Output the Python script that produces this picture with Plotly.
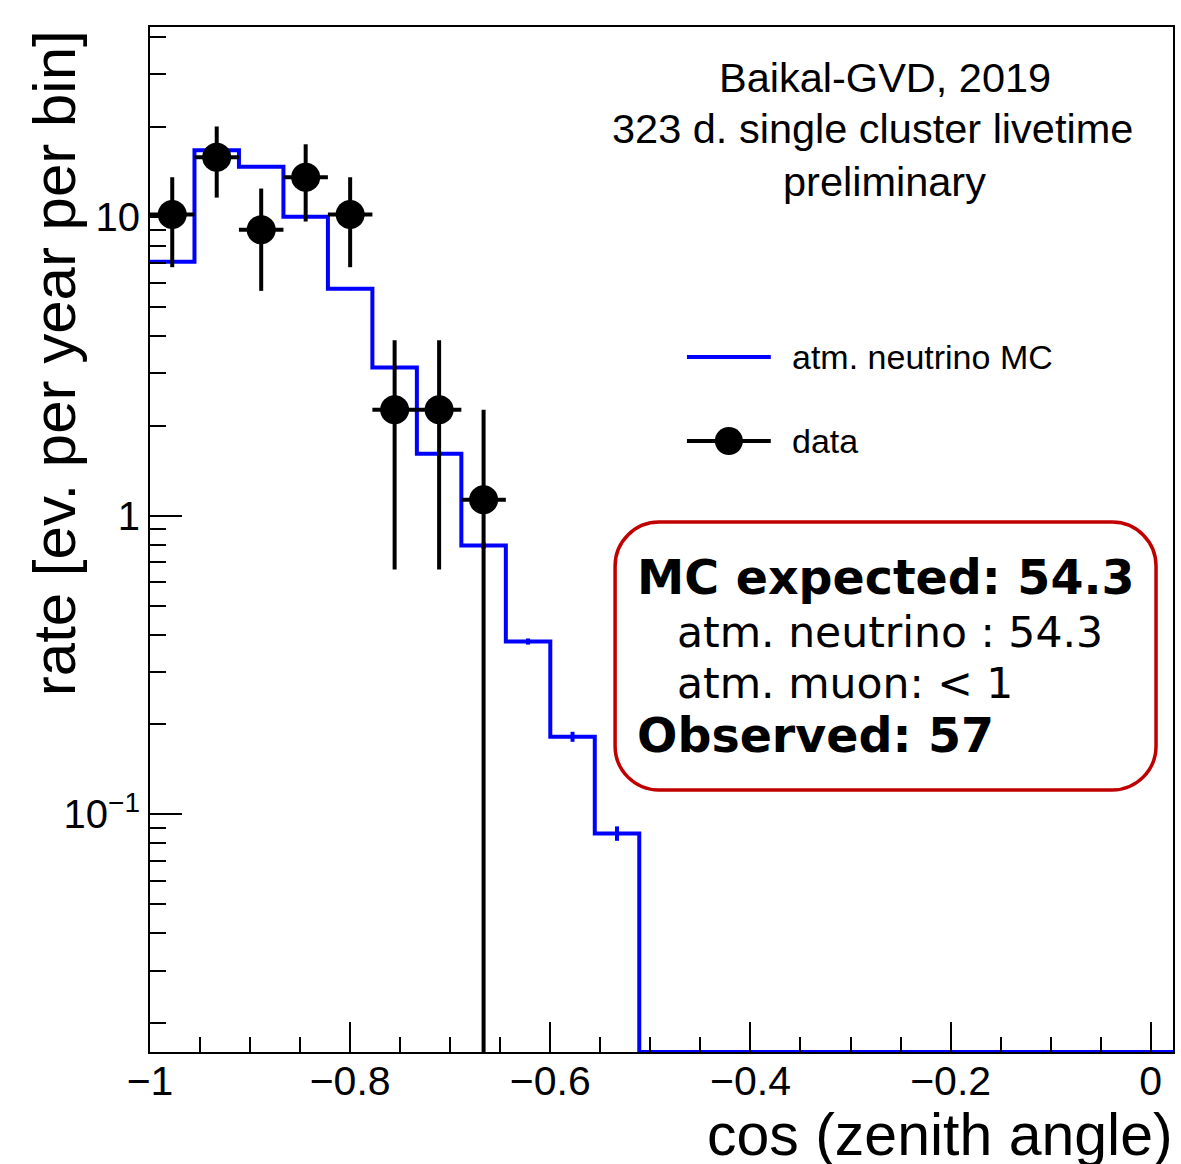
import plotly.graph_objects as go

# ---------------- data ----------------
x_min = -1.0
bin_width = 2.0 / 45.0
n_bins = 23

mc_rate = [7.07, 16.7, 14.7, 10.0, 5.74, 3.13, 1.61, 0.794, 0.379, 0.182, 0.0864,
           0, 0, 0, 0, 0, 0, 0, 0, 0, 0, 0, 0]
mc_err = [0.05, 0.10, 0.10, 0.08, 0.06, 0.04, 0.03, 0.02, 0.009, 0.007, 0.0048,
          0, 0, 0, 0, 0, 0, 0, 0, 0, 0, 0, 0]

data_rate = [10.17, 15.82, 9.04, 13.56, 10.17, 2.26, 2.26, 1.13]
data_err = [3.39, 4.23, 3.39, 3.92, 3.39, 1.60, 1.60, 1.13]

y_range_log = [-1.795, 1.635]
y_major_vals = [0.1, 1, 10]
y_major_text = ["10<sup>−1</sup>", "1", "10"]

# ---------------- derived ----------------
y_floor = 10 ** y_range_log[0]
edges = [x_min + i * bin_width for i in range(n_bins + 1)]
centers = [x_min + (i + 0.5) * bin_width for i in range(n_bins)]
mc_plot = [max(v, y_floor) for v in mc_rate]

y_minor = []
for dec in [0.01, 0.1, 1, 10]:
    for k in range(2, 10):
        v = k * dec
        if y_floor < v < 10 ** y_range_log[1]:
            y_minor.append(v)

BLUE = "rgb(0,0,255)"
FONT = "Liberation Sans"

fig = go.Figure()

# MC histogram (step line)
fig.add_trace(go.Scatter(
    x=edges, y=mc_plot + [mc_plot[-1]], mode="lines",
    line=dict(color=BLUE, width=4, shape="hv"), hoverinfo="skip",
))
# MC statistical error bars
nz = [i for i, v in enumerate(mc_rate) if v > 0]
fig.add_trace(go.Scatter(
    x=[centers[i] for i in nz], y=[mc_rate[i] for i in nz], mode="markers",
    marker=dict(size=1, color=BLUE, opacity=0),
    error_y=dict(type="data", array=[mc_err[i] for i in nz], color=BLUE,
                 thickness=4, width=0),
))

# data points
d_x = centers[:len(data_rate)]
d_minus = [min(e, v - y_floor * 1.0001) for v, e in zip(data_rate, data_err)]
fig.add_trace(go.Scatter(
    x=d_x, y=data_rate, mode="markers",
    marker=dict(size=29, color="black", symbol="circle"),
    error_y=dict(type="data", array=data_err, arrayminus=d_minus,
                 color="black", thickness=4, width=0),
    error_x=dict(type="constant", value=bin_width / 2, color="black",
                 thickness=4, width=0),
))

# ---------------- layout ----------------
L, R, T, B = 150, 6, 27, 112
W, H = 1181, 1164
PW, PH = W - L - R, H - T - B


def px(xp):
    return (xp - L) / PW


def py(yp):
    return (H - B - yp) / PH


fig.update_layout(
    width=W, height=H,
    margin=dict(l=L, r=R, t=T, b=B),
    paper_bgcolor="white", plot_bgcolor="white",
    showlegend=False,
    font=dict(family=FONT, color="black"),
    xaxis=dict(
        range=[x_min, x_min + n_bins * bin_width],
        showgrid=False, zeroline=False,
        showline=True, linecolor="black", linewidth=2, mirror=True,
        ticks="inside", ticklen=30, tickwidth=2, tickcolor="black",
        dtick=0.2, tick0=0,
        ticklabelstandoff=-8,
        tickfont=dict(size=41, family=FONT),
        minor=dict(ticks="inside", ticklen=15, tickwidth=2, tickcolor="black",
                   dtick=0.05, tick0=0, showgrid=False),
    ),
    yaxis=dict(
        type="log", range=y_range_log,
        showgrid=False, zeroline=False,
        showline=True, linecolor="black", linewidth=2, mirror=True,
        ticks="inside", ticklen=32, tickwidth=2, tickcolor="black",
        tickvals=y_major_vals, ticktext=y_major_text,
        tickfont=dict(size=40, family=FONT),
        minor=dict(ticks="inside", ticklen=16, tickwidth=2, tickcolor="black",
                   tickvals=y_minor, showgrid=False),
    ),
)

ann = []
# axis titles
ann.append(dict(text="rate [ev. per year per bin]", textangle=-90,
                x=px(54), y=py(28), xref="paper", yref="paper",
                xanchor="center", yanchor="top", showarrow=False,
                font=dict(size=60, family=FONT)))
ann.append(dict(text="cos (zenith angle)", x=px(1177), y=py(1135),
                xref="paper", yref="paper", xanchor="right", yanchor="middle",
                showarrow=False, font=dict(size=59, family=FONT)))
# header text
for txt, cx, cy in [("Baikal-GVD, 2019", 886, 77),
                    ("323 d. single cluster livetime", 874, 129),
                    ("preliminary", 886, 181)]:
    ann.append(dict(text=txt, x=px(cx), y=py(cy), xref="paper", yref="paper",
                    xanchor="center", yanchor="middle", showarrow=False,
                    font=dict(size=41.5, family=FONT)))
# legend
ann.append(dict(text="atm. neutrino MC", x=px(791), y=py(357),
                xref="paper", yref="paper", xanchor="left", yanchor="middle",
                showarrow=False, font=dict(size=34, family=FONT)))
ann.append(dict(text="data", x=px(791), y=py(441),
                xref="paper", yref="paper", xanchor="left", yanchor="middle",
                showarrow=False, font=dict(size=34, family=FONT)))
# summary box text
BOX_FONT = "DejaVu Sans"
for txt, lx, cy, size, bold in [("MC expected: 54.3", 636, 577, 47.5, True),
                                ("atm. neutrino : 54.3", 676, 632, 42.5, False),
                                ("atm. muon: < 1", 676, 683, 42.5, False),
                                ("Observed: 57", 636, 735, 47.5, True)]:
    ann.append(dict(text=("<b>%s</b>" % txt) if bold else txt,
                    x=px(lx), y=py(cy), xref="paper", yref="paper",
                    xanchor="left", yanchor="middle", showarrow=False,
                    font=dict(size=size, family=BOX_FONT)))
fig.update_layout(annotations=ann)

shapes = []
# legend symbols
shapes.append(dict(type="line", xref="paper", yref="paper",
                   x0=px(688), x1=px(772), y0=py(357), y1=py(357),
                   line=dict(color=BLUE, width=4)))
shapes.append(dict(type="line", xref="paper", yref="paper",
                   x0=px(688), x1=px(772), y0=py(441), y1=py(441),
                   line=dict(color="black", width=4)))
shapes.append(dict(type="circle", xref="paper", yref="paper",
                   x0=px(730 - 14), x1=px(730 + 14), y0=py(441 + 14), y1=py(441 - 14),
                   fillcolor="black", line=dict(color="black", width=0)))
# rounded box
x0, x1, y0, y1, r = 616, 1158, 522, 790, 44
k = 0.5523 * r
pts = [
    ("M", [(x0 + r, y0)]),
    ("L", [(x1 - r, y0)]),
    ("C", [(x1 - r + k, y0), (x1, y0 + r - k), (x1, y0 + r)]),
    ("L", [(x1, y1 - r)]),
    ("C", [(x1, y1 - r + k), (x1 - r + k, y1), (x1 - r, y1)]),
    ("L", [(x0 + r, y1)]),
    ("C", [(x0 + r - k, y1), (x0, y1 - r + k), (x0, y1 - r)]),
    ("L", [(x0, y0 + r)]),
    ("C", [(x0, y0 + r - k), (x0 + r - k, y0), (x0 + r, y0)]),
]
path = ""
for cmd, plist in pts:
    path += cmd + " " + " ".join("%.5f,%.5f" % (px(a), py(b)) for a, b in plist) + " "
path += "Z"
shapes.append(dict(type="path", xref="paper", yref="paper", path=path,
                   line=dict(color="rgb(192,0,0)", width=3.5)))
fig.update_layout(shapes=shapes)

fig.write_html("out.html")
